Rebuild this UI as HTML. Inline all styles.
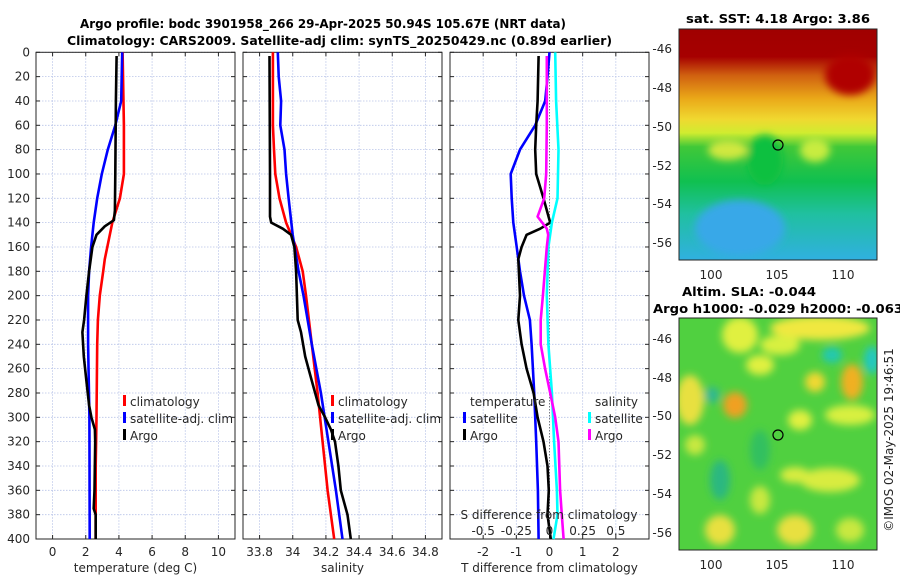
<!DOCTYPE html>
<html><head><meta charset="utf-8"><style>
body{margin:0;background:#fff;}
svg text{font-family:"DejaVu Sans","Liberation Sans",sans-serif;fill:#262626;}
.t{font-size:12px;}
.b{font-weight:bold;font-size:12px;fill:#000;}
</style></head><body>
<svg id="c" width="900" height="580" viewBox="0 0 900 580" xmlns="http://www.w3.org/2000/svg">
<defs>
<linearGradient id="sst" x1="0" y1="0" x2="0" y2="1">
<stop offset="0" stop-color="#a00000"/><stop offset="0.12" stop-color="#a60000"/>
<stop offset="0.2" stop-color="#d06010"/><stop offset="0.3" stop-color="#eaa818"/>
<stop offset="0.39" stop-color="#f0d830"/><stop offset="0.45" stop-color="#d0ec30"/>
<stop offset="0.51" stop-color="#40c838"/><stop offset="0.66" stop-color="#10c050"/>
<stop offset="0.8" stop-color="#20c0a0"/><stop offset="1" stop-color="#30b0e0"/>
</linearGradient>
<filter id="bl"><feGaussianBlur stdDeviation="4"/></filter>
<clipPath id="m1"><rect x="679" y="29" width="198" height="231"/></clipPath>
<clipPath id="m2"><rect x="679" y="318" width="198" height="232"/></clipPath>
</defs>
<text class="b" x="80" y="28" textLength="486" lengthAdjust="spacingAndGlyphs">Argo profile: bodc 3901958_266 29-Apr-2025 50.94S 105.67E (NRT data)</text>
<text class="b" x="67" y="45" textLength="545" lengthAdjust="spacingAndGlyphs">Climatology: CARS2009. Satellite-adj clim: synTS_20250429.nc (0.89d earlier)</text>
<g id="p1"></g>
<g id="p2"></g>
<g id="p3"></g>

<g>
<text class="b" x="686" y="23" textLength="184" lengthAdjust="spacingAndGlyphs">sat. SST: 4.18 Argo: 3.86</text>
<g clip-path="url(#m1)">
<rect x="679" y="29" width="198" height="231" fill="url(#sst)"/>
<g filter="url(#bl)">
<ellipse cx="850" cy="75" rx="25" ry="20" fill="#b00000"/>
<ellipse cx="740" cy="228" rx="45" ry="28" fill="#38a8e8"/>
<ellipse cx="765" cy="160" rx="18" ry="25" fill="#10c040"/>
<ellipse cx="815" cy="150" rx="15" ry="12" fill="#c8ec40"/>
<ellipse cx="728" cy="150" rx="20" ry="10" fill="#d0e840"/>
</g></g>
<rect x="679" y="29" width="198" height="231" fill="none" stroke="#262626" stroke-width="1"/>
<circle cx="778" cy="145" r="5" fill="none" stroke="#000" stroke-width="1.2"/>
<g class="t">
<text x="672" y="53" text-anchor="end">-46</text><text x="672" y="92" text-anchor="end">-48</text>
<text x="672" y="131" text-anchor="end">-50</text><text x="672" y="170" text-anchor="end">-52</text>
<text x="672" y="208" text-anchor="end">-54</text><text x="672" y="247" text-anchor="end">-56</text>
<text x="711" y="279" text-anchor="middle">100</text><text x="777" y="279" text-anchor="middle">105</text><text x="843" y="279" text-anchor="middle">110</text>
</g></g>

<g>
<text class="b" x="682" y="296" textLength="134" lengthAdjust="spacingAndGlyphs">Altim. SLA: -0.044</text>
<text class="b" x="653" y="313" textLength="250" lengthAdjust="spacingAndGlyphs">Argo h1000: -0.029 h2000: -0.063</text>
<g clip-path="url(#m2)">
<rect x="679" y="318" width="198" height="232" fill="#50d040"/>
<g filter="url(#bl)">
<ellipse cx="820" cy="328" rx="50" ry="12" fill="#f0e840"/>
<ellipse cx="740" cy="335" rx="18" ry="18" fill="#e0f040"/>
<ellipse cx="780" cy="345" rx="20" ry="10" fill="#d8f040"/>
<ellipse cx="690" cy="400" rx="14" ry="25" fill="#e8e040"/>
<ellipse cx="735" cy="405" rx="12" ry="13" fill="#f0a020"/>
<ellipse cx="852" cy="382" rx="11" ry="18" fill="#f0b020"/>
<ellipse cx="815" cy="382" rx="10" ry="10" fill="#f0d830"/>
<ellipse cx="832" cy="355" rx="10" ry="8" fill="#20c8b0"/>
<ellipse cx="872" cy="360" rx="8" ry="14" fill="#20c8c0"/>
<ellipse cx="712" cy="395" rx="8" ry="8" fill="#30b890"/>
<ellipse cx="760" cy="365" rx="14" ry="10" fill="#e0f040"/>
<ellipse cx="850" cy="415" rx="25" ry="10" fill="#d8f040"/>
<ellipse cx="800" cy="420" rx="12" ry="10" fill="#e0f040"/>
<ellipse cx="830" cy="480" rx="30" ry="12" fill="#d8ec40"/>
<ellipse cx="795" cy="475" rx="15" ry="8" fill="#d8ec40"/>
<ellipse cx="720" cy="530" rx="15" ry="15" fill="#e8e040"/>
<ellipse cx="795" cy="530" rx="18" ry="15" fill="#e8e040"/>
<ellipse cx="760" cy="500" rx="10" ry="14" fill="#c8e840"/>
<ellipse cx="850" cy="530" rx="14" ry="12" fill="#c8e840"/>
<ellipse cx="720" cy="480" rx="10" ry="20" fill="#2cb880"/>
<ellipse cx="760" cy="450" rx="10" ry="20" fill="#30c060"/>
<ellipse cx="695" cy="445" rx="10" ry="10" fill="#c8e840"/>
</g></g>
<rect x="679" y="318" width="198" height="232" fill="none" stroke="#262626" stroke-width="1"/>
<circle cx="778" cy="435" r="5" fill="none" stroke="#000" stroke-width="1.2"/>
<g class="t">
<text x="672" y="343" text-anchor="end">-46</text><text x="672" y="382" text-anchor="end">-48</text>
<text x="672" y="420" text-anchor="end">-50</text><text x="672" y="459" text-anchor="end">-52</text>
<text x="672" y="498" text-anchor="end">-54</text><text x="672" y="537" text-anchor="end">-56</text>
<text x="711" y="569" text-anchor="middle">100</text><text x="777" y="569" text-anchor="middle">105</text><text x="843" y="569" text-anchor="middle">110</text>
</g></g>
<text class="t" transform="translate(893,440) rotate(-90)" text-anchor="middle">©IMOS 02-May-2025 19:46:51</text>
</svg>
<script>
const depthTicks=[0,20,40,60,80,100,120,140,160,180,200,220,240,260,280,300,320,340,360,380,400];
const tempTicks=[0,2,4,6,8,10];
const salTicks=[33.8,34,34.2,34.4,34.6,34.8];
const diffTicks=[-2,-1,0,1,2];
const sdiffTickLabels=["-0.5","-0.25","0","0.25","0.5"];
const sdiffTickVals=[-0.5,-0.25,0,0.25,0.5];

const tClimD=[0,60,100,120,140,160,170,180,200,220,240,300,340,400];
const tClimV=[4.22,4.3,4.3,4.06,3.6,3.3,3.15,3.05,2.85,2.73,2.69,2.65,2.6,2.6];
const tSatD=[0,40,60,80,100,120,140,160,180,200,240,300,400];
const tSatV=[4.2,4.14,3.78,3.33,2.97,2.69,2.48,2.32,2.2,2.14,2.14,2.22,2.24];
const tArgoD=[3,40,100,130,138,143,150,160,180,200,220,230,250,270,290,300,310,320,360,375,380,400];
const tArgoV=[3.86,3.82,3.78,3.76,3.7,3.15,2.65,2.4,2.2,2.04,1.9,1.8,1.88,2.04,2.2,2.34,2.55,2.57,2.53,2.48,2.6,2.6];

const sClimD=[0,60,80,100,120,140,150,160,170,180,200,240,280,320,360,400];
const sClimV=[33.88,33.88,33.887,33.895,33.92,33.96,33.99,34.02,34.04,34.06,34.08,34.115,34.15,34.18,34.21,34.25];
const sSatD=[0,20,40,60,80,100,120,150,180,200,240,280,320,360,400];
const sSatV=[33.91,33.915,33.93,33.925,33.95,33.96,33.975,34.0,34.035,34.065,34.115,34.17,34.215,34.26,34.3];
const sArgoD=[3,100,135,140,145,150,160,180,220,230,250,270,290,300,310,320,340,360,380,400];
const sArgoV=[33.86,33.863,33.863,33.87,33.94,33.99,34.01,34.02,34.03,34.05,34.075,34.115,34.155,34.195,34.23,34.255,34.275,34.29,34.33,34.35];

const dTSatD=[0,20,40,60,80,100,120,140,160,180,200,220,240,280,320,360,400];
const dTSatV=[0,-0.06,-0.13,-0.43,-0.89,-1.17,-1.14,-1.09,-0.99,-0.89,-0.77,-0.59,-0.54,-0.46,-0.4,-0.35,-0.33];
const dTArgoD=[3,40,60,80,100,120,140,145,150,160,170,200,220,240,260,280,300,320,340,360,380,400];
const dTArgoV=[-0.33,-0.36,-0.4,-0.43,-0.4,-0.18,0.02,-0.28,-0.69,-0.84,-0.94,-0.89,-0.94,-0.84,-0.69,-0.48,-0.36,-0.18,-0.06,-0.02,-0.06,0.04];
const dSSatD=[0,40,80,120,140,160,200,240,280,320,360,380,400];
const dSSatV=[0.043,0.05,0.068,0.06,0.018,-0.008,-0.02,-0.008,0.018,0.035,0.056,0.06,0.03];
const dSArgoD=[3,60,100,120,135,145,150,160,200,220,240,260,280,300,320,360,380,400];
const dSArgoV=[-0.02,-0.02,-0.025,-0.04,-0.09,-0.02,-0.01,-0.02,-0.05,-0.066,-0.066,-0.033,0.005,0.043,0.068,0.08,0.093,0.106];

const NS='http://www.w3.org/2000/svg';
const top0=52.3, bot0=539;
const yS=d=>top0+d*(bot0-top0)/400;
function el(p,tag,a){const e=document.createElementNS(NS,tag);for(const k in a)e.setAttribute(k,a[k]);p.appendChild(e);return e;}
function txt(p,x,y,s,anchor){const e=el(p,'text',{x:x,y:y,'class':'t','text-anchor':anchor||'middle'});e.textContent=s;return e;}
function panel(g,x0,x1,lo,hi,ticks,labels,xtitle,name){
  const xS=v=>x0+(v-lo)/(hi-lo)*(x1-x0);
  ticks.forEach((t,i)=>{const l=el(g,'line',{x1:xS(t),x2:xS(t),y1:top0,y2:bot0,stroke:'#b8c4e8','stroke-width':0.8,'stroke-dasharray':'1.5,1.5'});
    
    
    el(g,'line',{x1:xS(t),x2:xS(t),y1:bot0,y2:bot0-4,stroke:'#262626'});el(g,'line',{x1:xS(t),x2:xS(t),y1:top0,y2:top0+4,stroke:'#262626'});
    const tl=txt(g,xS(t),556,labels[i]);
    
    });
  depthTicks.forEach(d=>{const l=el(g,'line',{x1:x0,x2:x1,y1:yS(d),y2:yS(d),stroke:'#b8c4e8','stroke-width':0.8,'stroke-dasharray':'1.5,1.5'});
    
    
    el(g,'line',{x1:x0,x2:x0+4,y1:yS(d),y2:yS(d),stroke:'#262626'});el(g,'line',{x1:x1,x2:x1-4,y1:yS(d),y2:yS(d),stroke:'#262626'});});
  const r=el(g,'rect',{x:x0,y:top0,width:x1-x0,height:bot0-top0,fill:'none',stroke:'#262626','stroke-width':1});
  
  
  const tt=txt(g,(x0+x1)/2,572,xtitle);
  tt.setAttribute('font-size','13');
  
  
  return xS;
}
function line(g,xS,D,V,color,nm,w){
  const pts=D.map((d,i)=>xS(V[i]).toFixed(1)+','+yS(d).toFixed(1)).join(' ');
  const p=el(g,'polyline',{points:pts,fill:'none',stroke:color,'stroke-width':w||2.6,'stroke-linejoin':'round'});
  
  
}
function leg(g,x,y,color,s,nm){
  el(g,'rect',{x:x,y:y-11,width:3,height:11,fill:color});
  const t=txt(g,x+7,y,s,'start');t.setAttribute('font-size','13');
  
  
}
const g1=document.getElementById('p1'),g2=document.getElementById('p2'),g3=document.getElementById('p3');
const x1=panel(g1,36,235,-1,11,tempTicks,tempTicks.map(String),'temperature (deg C)','temp');
depthTicks.forEach(d=>{const t=txt(g1,30,yS(d)+4,String(d),'end');
  
  });
line(g1,x1,tClimD,tClimV,'#ff0000','temp-climatology-line');
line(g1,x1,tSatD,tSatV,'#0000ff','temp-satellite-line');
line(g1,x1,tArgoD,tArgoV,'#000000','temp-argo-line');
leg(g1,123,406,'#ff0000','climatology','legend-climatology');
leg(g1,123,423,'#0000ff','satellite-adj. clim','legend-satellite');
leg(g1,123,440,'#000000','Argo','legend-argo');

const x2=panel(g2,243,442,33.7,34.9,salTicks,['33.8','34','34.2','34.4','34.6','34.8'],'salinity','sal');
line(g2,x2,sClimD,sClimV,'#ff0000','sal-climatology-line');
line(g2,x2,sSatD,sSatV,'#0000ff','sal-satellite-line');
line(g2,x2,sArgoD,sArgoV,'#000000','sal-argo-line');
leg(g2,331,406,'#ff0000','climatology','legend-climatology-sal');
leg(g2,331,423,'#0000ff','satellite-adj. clim','legend-satellite-sal');
leg(g2,331,440,'#000000','Argo','legend-argo-sal');

const x3=panel(g3,450,649,-3,3,diffTicks,diffTicks.map(String),'T difference from climatology','diff');
const zl=el(g3,'line',{x1:x3(0),x2:x3(0),y1:top0,y2:bot0,stroke:'#555','stroke-width':1,'stroke-dasharray':'1,2'});


const xs3=v=>x3(v*4);
line(g3,x3,dTSatD,dTSatV,'#0000ff','dT-satellite-line');
line(g3,x3,dTArgoD,dTArgoV,'#000000','dT-argo-line');
line(g3,xs3,dSSatD,dSSatV,'#00ffff','dS-satellite-line');
line(g3,xs3,dSArgoD,dSArgoV,'#ff00ff','dS-argo-line');
const lt=txt(g3,470,406,'temperature','start');lt.setAttribute('font-size','13');
const ls=txt(g3,595,406,'salinity','start');ls.setAttribute('font-size','13');
leg(g3,463,423,'#0000ff','satellite','legend-dT-satellite');
leg(g3,463,440,'#000000','Argo','legend-dT-argo');
leg(g3,588,423,'#00ffff','satellite','legend-dS-satellite');
leg(g3,588,440,'#ff00ff','Argo','legend-dS-argo');
const st=txt(g3,549,519,'S difference from climatology');st.setAttribute('font-size','13');


sdiffTickVals.forEach((v,i)=>{const t=txt(g3,xs3(v),535,sdiffTickLabels[i]);t.setAttribute('font-size','13');
  
  });
</script>
</body></html>
